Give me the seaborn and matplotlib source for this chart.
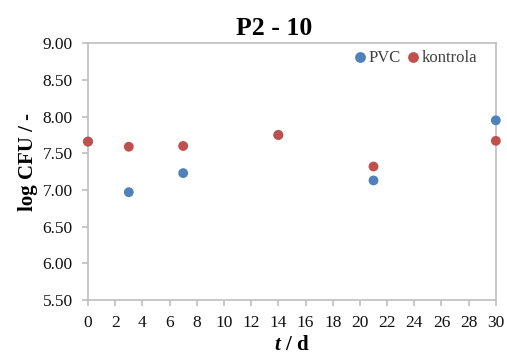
import numpy as np
import pandas as pd
import matplotlib
matplotlib.use("Agg")
import matplotlib.pyplot as plt
import seaborn as sns

# data
days = [0, 3, 7, 14, 21, 30]
pvc = [7.66, 6.97, 7.23, 7.75, 7.13, 7.95]
kontrola = [7.66, 7.59, 7.60, 7.75, 7.32, 7.67]
series_names = ["PVC", "kontrola"]
colors = ["#4F81BD", "#C0504D"]

sns.set_style("white")
plt.rcParams['font.family'] = ['Liberation Serif', 'DejaVu Serif']
plt.rcParams['mathtext.fontset'] = 'custom'
plt.rcParams['mathtext.bfit'] = 'Liberation Serif:italic:bold'
plt.rcParams['mathtext.rm'] = 'Liberation Serif'
plt.rcParams['text.color'] = 'black'
plt.rcParams['axes.labelcolor'] = 'black'

df = pd.DataFrame({
    'day': days * 2,
    'value': pvc + kontrola,
    'series': [series_names[0]] * len(days) + [series_names[1]] * len(days),
})

fig = plt.figure(figsize=(5.07, 3.6), dpi=100)
ax = fig.add_axes([0.1736, 0.1667, 0.8044, 0.713])

sns.scatterplot(data=df, x='day', y='value', hue='series', palette=colors,
                s=50, edgecolor='none', ax=ax, clip_on=False, zorder=3)

ax.set_xlim(0, 30)
ax.set_ylim(5.5, 9.0)
ax.set_xticks(np.arange(0, 31, 2))
ax.set_yticks(np.arange(5.5, 9.01, 0.5))
ax.set_yticklabels([f"{v:.2f}" for v in np.arange(5.5, 9.01, 0.5)])

for sp in ax.spines.values():
    sp.set_color('#BFBFBF')
    sp.set_linewidth(1.2)
ax.tick_params(axis='both', which='major', direction='out', length=4, width=1.2,
               color='#BFBFBF', labelsize=12.5, labelcolor='#111111',
               bottom=True, left=True)
ax.tick_params(axis='x', pad=7)
ax.tick_params(axis='y', pad=7)

ax.set_title("P2 - 10", fontsize=18.5, fontweight='bold', pad=6, color='black',
             x=0.456)
ax.set_xlabel(r"$\mathbfit{t}$ / d", fontsize=15, fontweight='bold', labelpad=3)
ax.set_ylabel("log CFU / -", fontsize=15, fontweight='bold')
ax.yaxis.set_label_coords(-0.123, 0.537)

leg = ax.legend(loc='upper right', ncol=2, frameon=False, fontsize=12,
                handlelength=0.8, handletextpad=0.15, columnspacing=0.3,
                borderaxespad=0.1, markerscale=1.1,
                bbox_to_anchor=(0.975, 1.005))
for t in leg.get_texts():
    t.set_color('#404040')

fig.savefig("out.png", dpi=100)
